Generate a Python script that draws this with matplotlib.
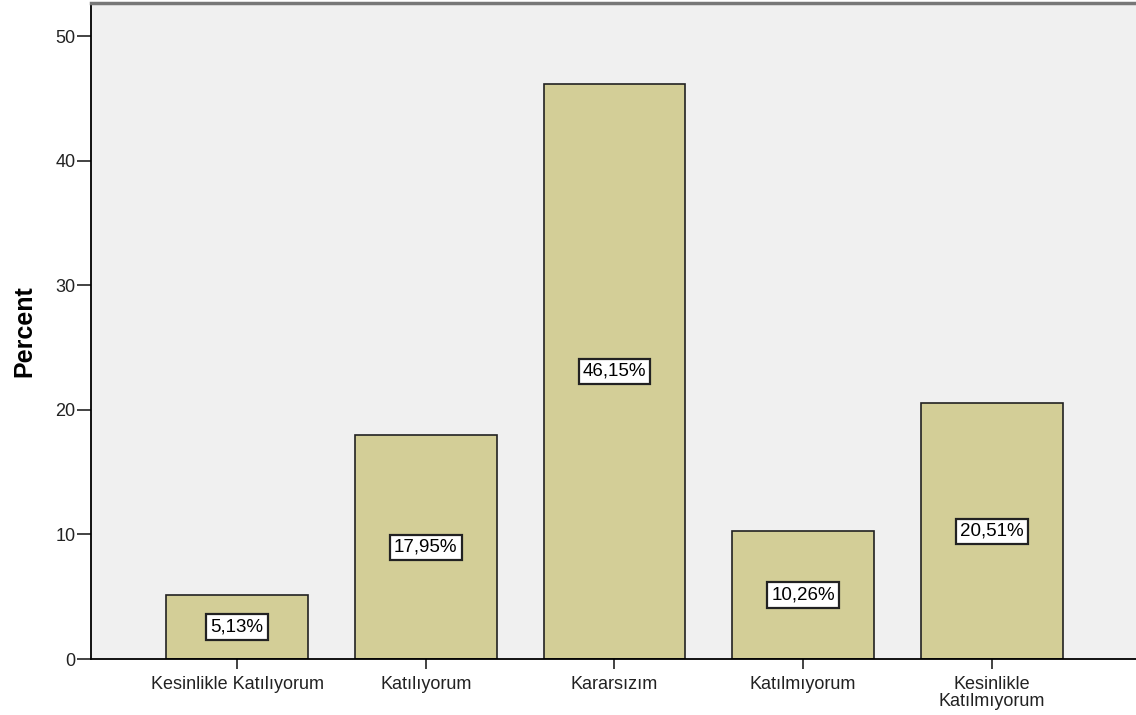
import matplotlib
matplotlib.use("Agg")
import matplotlib.pyplot as plt

categories = ["Kesinlikle Katılıyorum", "Katılıyorum", "Kararsızım",
              "Katılmıyorum", "Kesinlikle\nKatılmıyorum"]
percent = [5.13, 17.95, 46.15, 10.26, 20.51]
value_labels = ["5,13%", "17,95%", "46,15%", "10,26%", "20,51%"]
y_ticks = [0, 10, 20, 30, 40, 50]

plt.rcParams["font.family"] = ["Liberation Sans", "DejaVu Sans"]

fig = plt.figure(figsize=(11.36, 7.15), dpi=100)
ax = fig.add_axes([91 / 1136, 56 / 715, 1045 / 1136, 656 / 715])
ax.set_facecolor("#F0F0F0")

x = range(len(categories))
ax.bar(x, percent, 0.75, color="#D3CE97", edgecolor="#222222", linewidth=1.2, zorder=2)

for i, (v, lab) in enumerate(zip(percent, value_labels)):
    ax.text(i, v / 2, lab, ha="center", va="center", fontsize=13.5, zorder=3,
            bbox=dict(boxstyle="square,pad=0.22", facecolor="white",
                      edgecolor="#222222", linewidth=1.6))

ax.set_xlim(-0.774, 4.764)
ax.set_ylim(0, 52.65)
ax.set_yticks(y_ticks)
ax.set_xticks(list(x))
ax.set_xticklabels(categories, fontsize=13, linespacing=1.05)
ax.tick_params(axis="y", length=10, width=1.2, labelsize=13, pad=1, colors="#222222")
ax.tick_params(axis="x", length=7, width=1.2, pad=5, colors="#222222")
ax.set_ylabel("Percent", fontsize=18, fontweight="bold", labelpad=14)

ax.spines["right"].set_visible(False)
ax.spines["top"].set_color("#777777")
ax.spines["top"].set_linewidth(2.5)
ax.spines["left"].set_linewidth(1.3)
ax.spines["bottom"].set_linewidth(1.3)

fig.savefig("out.png", dpi=100)
